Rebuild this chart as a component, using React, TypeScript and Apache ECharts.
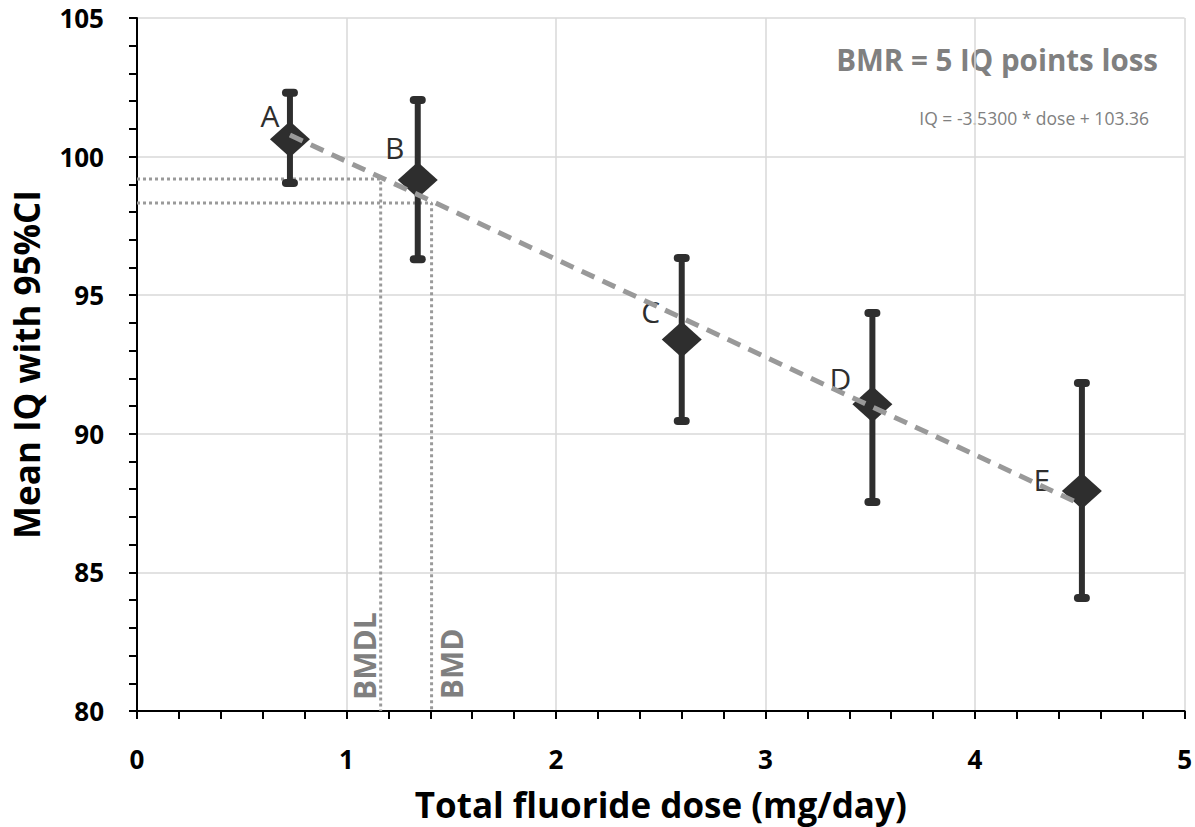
import React, { useEffect, useRef } from "react";
import * as echarts from "echarts";

const groups = ["A", "B", "C", "D", "E"];
const doses = [0.73, 1.34, 2.6, 3.51, 4.51];
const meanIQ = [100.63, 99.16, 93.4, 91.07, 87.94];
const ciLow = [99.05, 96.3, 90.46, 87.54, 84.08];
const ciHigh = [102.3, 102.04, 96.34, 94.36, 91.83];
const labelOffsets = [[-20, -24], [-23, -32], [-31, -28], [-32, -26], [-40, -11]];

const trendX = [0.73, 4.51];
const trendY = [100.78, 87.44];

const bmdlX = 1.163;
const bmdX = 1.406;
const bmdlY = 99.19;
const bmdY = 98.33;

const FONT = "Open Sans";

export default function App() {
  const ref = useRef<HTMLDivElement>(null);
  useEffect(() => {
    const chart = echarts.init(ref.current!, null, { renderer: "svg" });
    const option: any = {
      animation: false,
      backgroundColor: "#ffffff",
      grid: { left: 137, right: 9, top: 18, bottom: 116 },
      xAxis: {
        type: "value",
        min: 0,
        max: 5,
        interval: 1,
        name: "Total fluoride dose (mg/day)",
        nameLocation: "middle",
        nameGap: 76,
        nameTextStyle: { fontFamily: FONT, fontWeight: "bold", fontSize: 35, lineHeight: 35, color: "#000" },
        axisLine: { show: true, onZero: false, lineStyle: { color: "#000", width: 2 } },
        axisTick: { show: true, length: 8, lineStyle: { color: "#000", width: 2 } },
        minorTick: { show: true, splitNumber: 5, length: 8, lineStyle: { color: "#000", width: 2 } },
        axisLabel: { fontFamily: FONT, fontWeight: "bold", fontSize: 26, lineHeight: 26, color: "#000", margin: 35 },
        splitLine: { show: true, lineStyle: { color: "#d9d9d9", width: 1.5 } },
      },
      yAxis: {
        type: "value",
        min: 80,
        max: 105,
        interval: 5,
        name: "Mean IQ with 95%CI",
        nameLocation: "middle",
        nameGap: 93,
        nameTextStyle: { fontFamily: FONT, fontWeight: "bold", fontSize: 35, lineHeight: 35, color: "#000" },
        axisLine: { show: true, onZero: false, lineStyle: { color: "#000", width: 2 } },
        axisTick: { show: true, length: 8, lineStyle: { color: "#000", width: 2 } },
        minorTick: { show: true, splitNumber: 5, length: 8, lineStyle: { color: "#000", width: 2 } },
        axisLabel: { fontFamily: FONT, fontWeight: "bold", fontSize: 26, color: "#000", margin: 33 },
        splitLine: { show: true, lineStyle: { color: "#d9d9d9", width: 1.5 } },
      },
      graphic: [
        {
          type: "text",
          right: 37,
          top: 44,
          style: {
            text: "BMR = 5 IQ points loss",
            fontFamily: FONT,
            fontWeight: "bold",
            fontSize: 29.5,
            fill: "#808080",
          },
        },
        {
          type: "text",
          right: 46,
          top: 109,
          style: {
            text: "IQ = -3.5300 * dose + 103.36",
            fontFamily: FONT,
            fontSize: 17.5,
            fill: "#808080",
          },
        },
      ],
      series: [
        {
          type: "line",
          data: [[0, bmdlY], [bmdlX, bmdlY], [bmdlX, 80]],
          symbol: "none",
          lineStyle: { color: "#9a9a9a", width: 3, type: "dotted" },
          z: 3,
          silent: true,
        },
        {
          type: "line",
          data: [[0, bmdY], [bmdX, bmdY], [bmdX, 80]],
          symbol: "none",
          lineStyle: { color: "#9a9a9a", width: 3, type: "dotted" },
          z: 3,
          silent: true,
        },
        {
          type: "scatter",
          symbolSize: 0,
          itemStyle: { opacity: 1 },
          data: [
            { name: "BMDL", value: [1.084, 81.98] },
            { name: "BMD", value: [1.501, 81.7] },
          ],
          label: {
            show: true,
            position: "inside",
            rotate: 90,
            formatter: "{b}",
            fontFamily: FONT,
            fontWeight: "bold",
            fontSize: 30,
            color: "#7f7f7f",
          },
          z: 4,
        },
        {
          type: "custom",
          data: doses.map((d, i) => [d, ciLow[i], ciHigh[i]]),
          renderItem: (params: any, api: any) => {
            const x = api.value(0);
            const top = api.coord([x, api.value(2)]);
            const bot = api.coord([x, api.value(1)]);
            const stroke = "#2e2e2e";
            return {
              type: "group",
              children: [
                { type: "line", shape: { x1: top[0], y1: top[1], x2: bot[0], y2: bot[1] }, style: { stroke, lineWidth: 6 } },
                { type: "line", shape: { x1: top[0] - 4, y1: top[1], x2: top[0] + 4, y2: top[1] }, style: { stroke, lineWidth: 8, lineCap: "round" } },
                { type: "line", shape: { x1: bot[0] - 4, y1: bot[1], x2: bot[0] + 4, y2: bot[1] }, style: { stroke, lineWidth: 8, lineCap: "round" } },
              ],
            };
          },
          z: 5,
        },
        {
          type: "scatter",
          symbol: "diamond",
          symbolSize: [40, 36],
          itemStyle: { color: "#2e2e2e", opacity: 1 },
          data: doses.map((d, i) => ({
            name: groups[i],
            value: [d, meanIQ[i]],
            label: { offset: labelOffsets[i] },
          })),
          label: {
            show: true,
            position: "inside",
            formatter: "{b}",
            fontFamily: FONT,
            fontSize: 30,
            color: "#2e2e2e",
          },
          z: 6,
        },
        {
          type: "line",
          data: trendX.map((x, i) => [x, trendY[i]]),
          symbol: "none",
          lineStyle: { color: "#999999", width: 5, type: [14, 9] },
          z: 7,
          silent: true,
        },
      ],
    };
    chart.setOption(option);
    return () => chart.dispose();
  }, []);
  return (
    <div
      ref={ref}
      style={{ position: "fixed", left: 0, top: 0, width: 1195, height: 827 }}
    />
  );
}
